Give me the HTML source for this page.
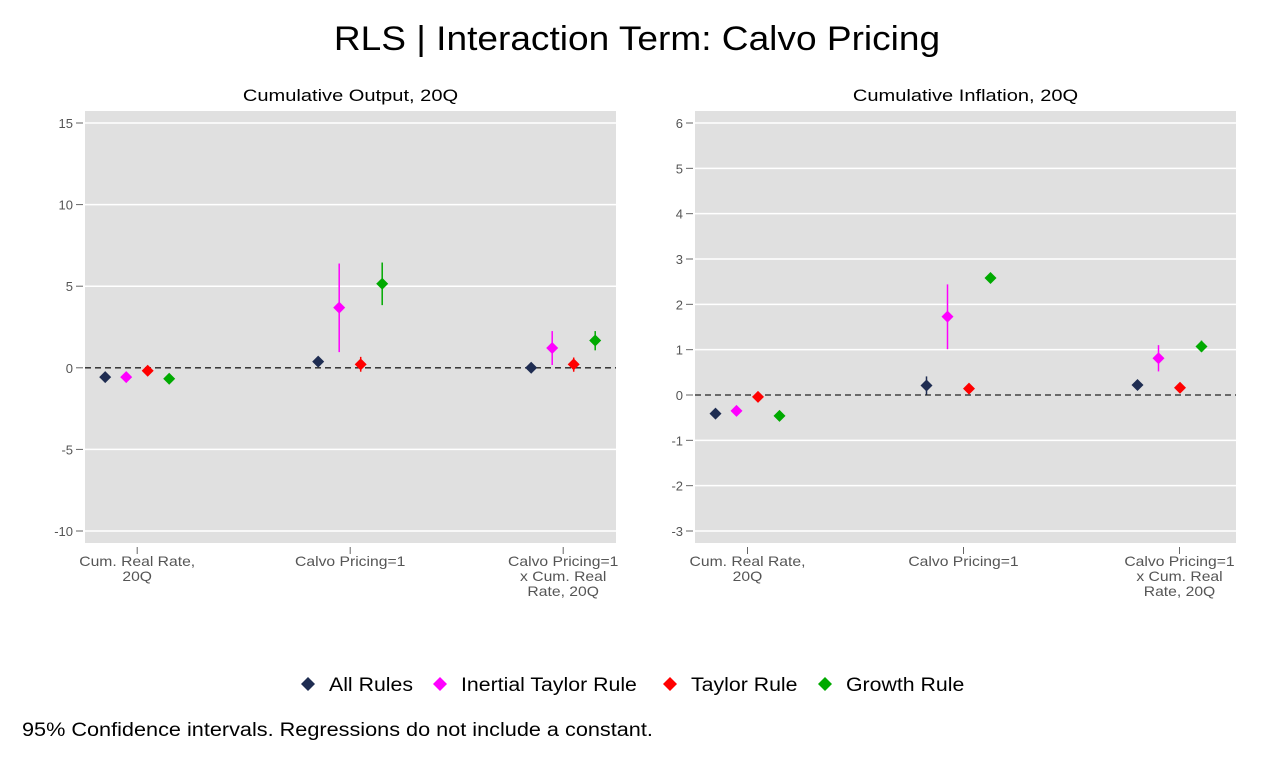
<!DOCTYPE html>
<html><head><meta charset="utf-8"><style>
body{margin:0;background:#fff;font-family:"Liberation Sans",sans-serif;}
svg text{font-family:"Liberation Sans",sans-serif;}
</style></head><body>
<svg id="chart" width="1273" height="763" viewBox="0 0 1273 763" xmlns="http://www.w3.org/2000/svg">
<rect width="1273" height="763" fill="#fff"/>
<text class="wide" data-f="1.09" x="637" y="50" font-size="34" text-anchor="middle" fill="#000">RLS | Interaction Term: Calvo Pricing</text>
<g id="panels"></g>
<g id="legend"></g>
<text class="wide" data-f="1.14" x="22" y="736" font-size="19" fill="#000">95% Confidence intervals. Regressions do not include a constant.</text>
</svg>
<script>
const categories = ["Cum. Real Rate,|20Q", "Calvo Pricing=1", "Calvo Pricing=1|x Cum. Real|Rate, 20Q"];
const seriesNames = ["All Rules", "Inertial Taylor Rule", "Taylor Rule", "Growth Rule"];
const seriesColors = ["#1f2d52", "#ff00ff", "#ff0000", "#00aa00"];
// Output panel
const outTicks = [15, 10, 5, 0, -5, -10];
const outVals = [[-0.57, 0.38, 0.0], [-0.57, 3.69, 1.21], [-0.18, 0.21, 0.21], [-0.67, 5.15, 1.67]];
const outLo = [[-0.57, 0.38, 0.0], [-0.57, 0.96, 0.17], [-0.18, -0.24, -0.24], [-0.67, 3.84, 1.07]];
const outHi = [[-0.57, 0.38, 0.0], [-0.57, 6.39, 2.25], [-0.18, 0.67, 0.63], [-0.67, 6.45, 2.25]];
// Inflation panel
const infTicks = [6, 5, 4, 3, 2, 1, 0, -1, -2, -3];
const infVals = [[-0.41, 0.21, 0.22], [-0.35, 1.73, 0.81], [-0.04, 0.14, 0.16], [-0.46, 2.58, 1.07]];
const infLo = [[-0.41, 0.01, 0.22], [-0.35, 1.01, 0.52], [-0.04, 0.14, 0.16], [-0.46, 2.58, 0.95]];
const infHi = [[-0.41, 0.41, 0.22], [-0.35, 2.44, 1.10], [-0.04, 0.14, 0.16], [-0.46, 2.58, 1.20]];

const NS = "http://www.w3.org/2000/svg";
function mk(tag, attrs, parent){const e=document.createElementNS(NS,tag);for(const k in attrs)e.setAttribute(k,attrs[k]);parent.appendChild(e);return e;}
function diamond(cx,cy,r){return `M${cx},${cy-r}L${cx+r},${cy}L${cx},${cy+r}L${cx-r},${cy}Z`;}

function drawPanel(cfg){
  const g = mk("g",{},document.getElementById("panels"));
  
  
  const y = v => cfg.y0 + (cfg.vTop - v) * (cfg.y1 - cfg.y0) / (cfg.vTop - cfg.vBot);
  const x = i => cfg.c0 + i * cfg.cs;
  const xl = i => cfg.c0 + i * cfg.ls;
  const bg = mk("rect",{x:cfg.left,y:111,width:cfg.right-cfg.left,height:432,fill:"#e0e0e0"},g);
  
  
  const t = mk("text",{x:(cfg.left+cfg.right)/2,y:101,"font-size":17,"text-anchor":"middle",fill:"#000",class:"wide","data-f":"1.18"},g);
  t.textContent = cfg.title;
  
  
  cfg.ticks.forEach(v=>{
    const yy=y(v);
    if(v!==0){
      const gl = mk("line",{x1:cfg.left,x2:cfg.right,y1:yy,y2:yy,stroke:"#fff","stroke-width":1.5},g);
      
      
    }
    mk("line",{x1:cfg.left-9,x2:cfg.left-2,y1:yy,y2:yy,stroke:"#666","stroke-width":1},g);
    const tl = mk("text",{x:cfg.left-12,y:yy+5,"font-size":13,"text-anchor":"end",fill:"#555"},g);
    tl.textContent = v;
    
    
  });
  const zl = mk("line",{x1:cfg.left,x2:cfg.right,y1:y(0),y2:y(0),stroke:"#222","stroke-width":1.3,"stroke-dasharray":"6,4"},g);
  
  
  categories.forEach((c,i)=>{
    mk("line",{x1:xl(i),x2:xl(i),y1:547,y2:554,stroke:"#666"},g);
    c.split("|").forEach((ln,j)=>{
      const tl = mk("text",{x:xl(i),y:566+j*15,"font-size":14,"text-anchor":"middle",fill:"#555",class:"wide","data-f":"1.12"},g);
      tl.textContent = ln;
      
      
    });
  });
  const offs=[-32,-11,10.5,32];
  cfg.vals.forEach((sv,s)=>{
    sv.forEach((v,i)=>{
      const xx=x(i)+offs[s];
      if(cfg.hi[s][i]!==cfg.lo[s][i]){
        const ci = mk("line",{x1:xx,x2:xx,y1:y(cfg.hi[s][i]),y2:y(cfg.lo[s][i]),stroke:seriesColors[s],"stroke-width":1.5},g);
        
        
      }
      const p = mk("path",{d:diamond(xx,y(v),6),fill:seriesColors[s]},g);
      
      
    });
  });
}
drawPanel({name:"output-panel",title:"Cumulative Output, 20Q",left:85,right:616,vTop:15,vBot:-10,y0:123,y1:531,c0:137.2,cs:213,ls:213,ticks:outTicks,vals:outVals,lo:outLo,hi:outHi});
drawPanel({name:"inflation-panel",title:"Cumulative Inflation, 20Q",left:695,right:1236,vTop:6,vBot:-3,y0:123,y1:531,c0:747.5,cs:211,ls:216,ticks:infTicks,vals:infVals,lo:infLo,hi:infHi});

const lg=document.getElementById("legend");
const mx=[308,440,670,825];
seriesNames.forEach((n,s)=>{
  const e = mk("g",{},lg);
  
  
  mk("path",{d:diamond(mx[s],684,7),fill:seriesColors[s]},e);
  const t=mk("text",{x:mx[s]+21,y:691,"font-size":19,fill:"#000",class:"wide","data-f":"1.12"},e);
  t.textContent=n;
});
document.querySelectorAll("text.wide").forEach(t=>{
  const w=t.getComputedTextLength();
  t.setAttribute("textLength",(w*parseFloat(t.getAttribute("data-f"))).toFixed(1));
  t.setAttribute("lengthAdjust","spacingAndGlyphs");
});
</script>
</body></html>
